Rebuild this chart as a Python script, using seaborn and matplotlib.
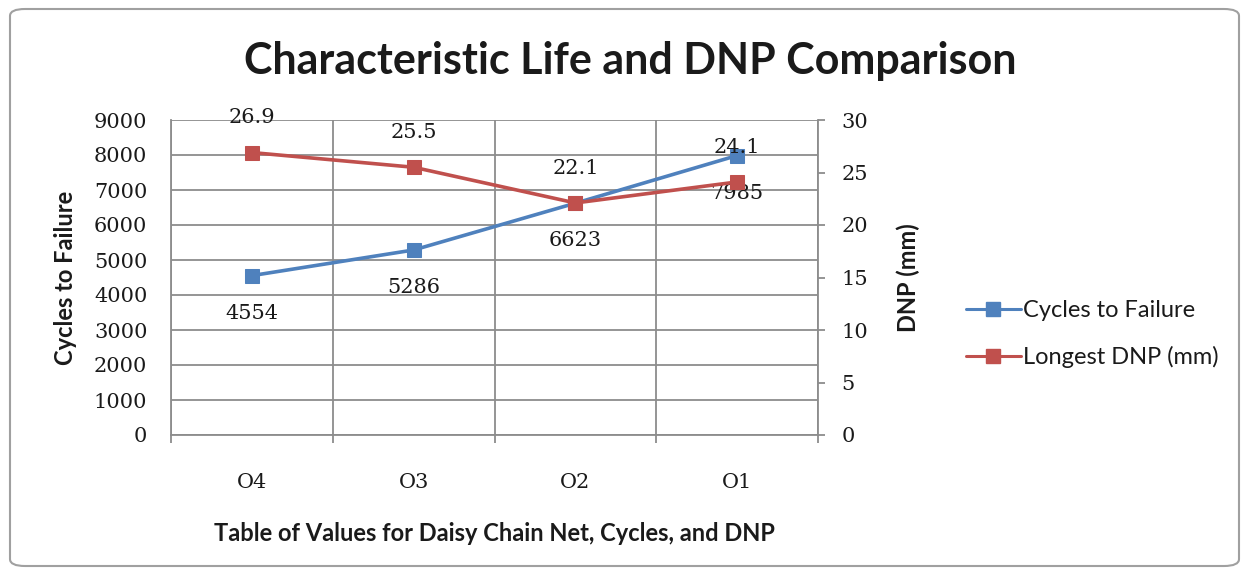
import matplotlib
matplotlib.use("Agg")
import matplotlib.pyplot as plt
from matplotlib.patches import FancyBboxPatch
from matplotlib.lines import Line2D
import seaborn as sns
import pandas as pd

# Daisy chain nets, in plotting order
nets = ["O4", "O3", "O2", "O1"]
cycles_to_failure = [4554, 5286, 6623, 7985]
longest_dnp_mm = [26.9, 25.5, 22.1, 24.1]

left_ticks = list(range(0, 9001, 1000))
right_ticks = list(range(0, 31, 5))

BLUE = "#4F81BD"
RED = "#C0504D"
GRID = "#8C8C8C"
TEXT = "#1a1a1a"

SANS = "Lato"
SERIF = "DejaVu Serif"

sns.set_theme(style="white")
plt.rcParams["font.family"] = [SANS, "DejaVu Sans"]

df = pd.DataFrame({"net": nets, "cycles": cycles_to_failure, "dnp": longest_dnp_mm})

fig = plt.figure(figsize=(12.49, 5.76), dpi=100)
fig.patch.set_facecolor("white")

# rounded chart-area frame
frame = FancyBboxPatch((10 / 1249, 10 / 576), 1229 / 1249, 557 / 576,
                       boxstyle="round,pad=0,rounding_size=0.012",
                       transform=fig.transFigure, facecolor="none",
                       edgecolor="#A0A0A0", linewidth=1.5, zorder=-1)
fig.patches.append(frame)

ax = fig.add_axes([171 / 1249, 1 - 435 / 576, (818 - 171) / 1249, (435 - 120) / 576])
ax.set_facecolor("none")
ax2 = ax.twinx()

sns.lineplot(data=df, x="net", y="cycles", ax=ax, color=BLUE, marker="s",
             markersize=10, markeredgecolor=BLUE, linewidth=2.6, sort=False,
             legend=False, zorder=3)
sns.lineplot(data=df, x="net", y="dnp", ax=ax2, color=RED, marker="s",
             markersize=10, markeredgecolor=RED, linewidth=2.6, sort=False,
             legend=False, zorder=3)

ax.set_xlim(-0.5, len(nets) - 0.5)
ax.set_ylim(0, 9000)
ax2.set_ylim(0, 30)
ax.set_yticks(left_ticks)
ax2.set_yticks(right_ticks)
ax.set_xticks(range(len(nets)))
ax.set_xticklabels(nets)
ax.set_xticks([i - 0.5 for i in range(len(nets) + 1)], minor=True)

# gridlines: horizontal per 1000 cycles, vertical at category boundaries
ax.grid(True, axis="y", which="major", color=GRID, linewidth=1.3)
ax.grid(True, axis="x", which="minor", color=GRID, linewidth=1.3)
ax.grid(False, axis="x", which="major")
ax2.grid(False)

for a in (ax, ax2):
    for s in a.spines.values():
        s.set_visible(False)
ax.spines["left"].set_visible(True)
ax.spines["left"].set_color(GRID)
ax.spines["left"].set_linewidth(1.3)
ax.spines["bottom"].set_visible(True)
ax.spines["bottom"].set_color(GRID)
ax.spines["bottom"].set_linewidth(1.3)
ax2.spines["right"].set_visible(True)
ax2.spines["right"].set_color(GRID)
ax2.spines["right"].set_linewidth(1.3)

ax.tick_params(axis="x", which="major", length=0, pad=27, labelsize=15,
               labelcolor=TEXT)
ax.tick_params(axis="x", which="minor", length=6, width=1.3, color=GRID,
               direction="out", bottom=True)
ax.tick_params(axis="y", length=0, pad=17, labelsize=15, labelcolor=TEXT, left=True)
ax2.tick_params(axis="y", length=5, width=1.3, color=GRID, direction="out",
                pad=12, labelsize=15, labelcolor=TEXT, right=True)
for lbl in ax.get_xticklabels() + ax.get_yticklabels() + ax2.get_yticklabels():
    lbl.set_fontfamily(SERIF)

ax.set_xlabel("Table of Values for Daisy Chain Net, Cycles, and DNP",
              fontsize=17, fontweight="bold", color=TEXT, labelpad=22)
ax.set_ylabel("Cycles to Failure", fontsize=17, fontweight="bold", color=TEXT,
              labelpad=12)
ax2.set_ylabel("DNP (mm)", fontsize=17, fontweight="bold", color=TEXT, labelpad=20)

# value labels
for i, v in enumerate(cycles_to_failure):
    ax.annotate(f"{v}", (i, v), xytext=(0, -27), textcoords="offset points",
                ha="center", va="center", fontsize=15, family=SERIF, color=TEXT,
                zorder=5)
for i, v in enumerate(longest_dnp_mm):
    ax2.annotate(f"{v}", (i, v), xytext=(0, 25), textcoords="offset points",
                 ha="center", va="center", fontsize=15, family=SERIF, color=TEXT,
                 zorder=5)

fig.text(630 / 1249, 1 - 61 / 576, "Characteristic Life and DNP Comparison",
         ha="center", va="center", fontsize=31, fontweight="bold", color=TEXT)

handles = [
    Line2D([], [], color=BLUE, marker="s", markersize=10, linewidth=2.2),
    Line2D([], [], color=RED, marker="s", markersize=10, linewidth=2.2),
]
fig.legend(handles, ["Cycles to Failure", "Longest DNP (mm)"],
           loc="center left", bbox_to_anchor=(945 / 1249, 1 - 334 / 576),
           frameon=False, fontsize=17, handlelength=2.3, handletextpad=0.1,
           labelspacing=1.05, labelcolor=TEXT)

fig.savefig("out.png", dpi=100, facecolor="white")
